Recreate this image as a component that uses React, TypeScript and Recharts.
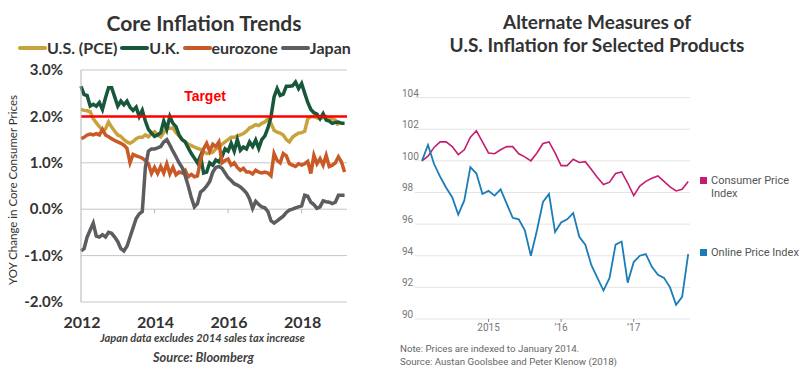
import React from 'react';
import {
  LineChart,
  Line,
  XAxis,
  YAxis,
  CartesianGrid,
  ReferenceLine,
  Legend,
} from 'recharts';

// Core inflation, YoY %, monthly from Jan 2012
const usPce = [
  2.15, 2.13, 2.12, 2.1, 1.95, 1.86, 1.78, 1.7, 1.73, 1.88,
  1.77, 1.68, 1.6, 1.57, 1.5, 1.45, 1.42, 1.46, 1.52, 1.55,
  1.55, 1.6, 1.56, 1.63, 1.67, 1.6, 1.56, 1.65, 1.77, 1.74,
  1.75, 1.65, 1.58, 1.5, 1.45, 1.4, 1.37, 1.34, 1.31, 1.29,
  1.24, 1.2, 1.21, 1.23, 1.3, 1.33, 1.4, 1.45, 1.5, 1.55,
  1.55, 1.58, 1.6, 1.63, 1.68, 1.75, 1.78, 1.82, 1.8, 1.85,
  1.88, 1.95, 1.85, 1.7, 1.66, 1.64, 1.6, 1.5, 1.45, 1.55,
  1.6, 1.64, 1.65, 1.68, 1.95, 1.99, 2.0, 1.97, 1.95, 1.98,
  2.0, 1.95, 1.95, 1.92, 1.8,
];
const uk = [
  2.65, 2.47, 2.45, 2.22, 2.26, 2.22, 2.3, 2.15, 2.4, 2.62,
  2.62, 2.42, 2.22, 2.33, 2.25, 2.33, 2.2, 2.13, 2.2, 2.0,
  2.13, 1.9, 1.72, 1.64, 1.57, 1.6, 1.65, 1.9, 1.72, 2.0,
  1.85, 1.78, 1.6, 1.5, 1.45, 1.32, 1.2, 1.1, 1.0, 1.15,
  0.78, 0.8, 1.0, 0.95, 1.06, 1.02, 1.13, 1.3, 1.25, 1.42,
  1.25, 1.5, 1.27, 1.34, 1.3, 1.45, 1.35, 1.49, 1.31, 1.5,
  1.58, 1.75, 1.99, 2.42, 2.6, 2.45, 2.48, 2.65, 2.65, 2.66,
  2.74, 2.6, 2.71, 2.5, 2.3, 2.15, 2.08, 2.05, 1.95, 2.06,
  1.92, 1.9, 1.85, 1.87, 1.88, 1.85, 1.85,
];
const eurozone = [
  1.52, 1.55, 1.6, 1.62, 1.6, 1.63, 1.6, 1.72, 1.6, 1.56,
  1.52, 1.48, 1.45, 1.42, 1.38, 1.31, 1.0, 1.18, 1.15, 1.13,
  1.1, 1.05, 0.98, 0.77, 0.9, 0.77, 0.92, 0.78, 0.98, 0.76,
  0.9, 0.74, 0.8, 0.78, 0.84, 0.7, 0.75, 0.7, 0.72, 1.05,
  1.3, 1.42, 1.25, 1.4, 1.35, 1.45, 1.0, 1.05, 1.08, 0.95,
  1.0, 0.9, 0.84, 0.88, 0.8, 0.8, 0.76, 0.84, 0.8, 0.78,
  0.8, 0.78, 0.72, 1.2, 1.05, 1.0, 1.2, 1.15, 0.98, 0.95,
  0.92, 0.98, 0.95, 0.98, 1.03, 0.77, 1.16, 0.98, 1.09, 0.95,
  1.16, 0.92, 0.95, 1.0, 1.13, 1.02, 0.8,
];
const japan = [
  -0.9, -0.85, -0.6, -0.45, -0.3, -0.58, -0.6, -0.55, -0.6, -0.5,
  -0.52, -0.6, -0.7, -0.85, -0.9, -0.8, -0.6, -0.4, -0.2, -0.1,
  -0.05, 0.9, 1.25, 1.3, 1.3, 1.32, 1.35, 1.45, 1.5, 1.38,
  1.25, 1.13, 1.0, 0.9, 0.72, 0.5, 0.25, 0.05, 0.12, 0.37,
  0.42, 0.5, 0.6, 0.8, 0.9, 0.92, 0.88, 0.78, 0.68, 0.62,
  0.55, 0.52, 0.48, 0.42, 0.35, 0.22, 0.02, 0.17, 0.1, 0.05,
  0.03, -0.05, -0.25, -0.3, -0.25, -0.2, -0.15, -0.07, -0.02, 0.0,
  0.03, 0.05, 0.07, 0.3, 0.28, 0.15, 0.1, 0.02, 0.05, 0.18,
  0.16, 0.15, 0.12, 0.15, 0.3, 0.3, 0.3,
];
const coreSeriesOrder = ['us', 'uk', 'ez', 'jp'];
const coreYearTicks = [0, 24, 48, 72];
const coreYearLabels = ['2012', '2014', '2016', '2018'];
const corePctTicks = [-2, -1, 0, 1, 2, 3];
const inflationTarget = 2;

// Price indexes (Jan 2014 = 100), monthly
const consumerPrice = [
  100.0, 100.3, 100.85, 101.2, 101.2, 100.9, 100.4, 100.7, 101.5, 101.9,
  101.2, 100.5, 100.45, 100.7, 100.9, 100.9, 100.45, 100.25, 100.0, 100.5,
  101.1, 101.2, 100.5, 99.7, 99.7, 100.1, 99.9, 99.95, 99.45, 98.95,
  98.5, 98.65, 99.2, 99.3, 98.6, 97.8, 98.4, 98.7, 98.9, 99.05,
  98.7, 98.35, 98.1, 98.2, 98.7,
];
const onlinePrice = [
  100.0, 101.0, 99.8, 99.0, 98.3, 97.7, 96.6, 97.5, 99.6, 99.2,
  97.9, 98.1, 97.8, 98.2, 97.3, 96.4, 96.3, 95.6, 94.0, 95.6,
  97.4, 97.9, 95.5, 96.1, 96.3, 96.7, 95.2, 94.7, 93.4, 92.6,
  91.8, 92.6, 94.7, 94.9, 92.3, 93.6, 94.0, 94.1, 93.3, 92.8,
  92.6, 92.0, 90.9, 91.4, 94.1,
];
const priceSeriesOrder = ['cpi', 'online'];
const priceIndexTicks = [90, 92, 94, 96, 98, 100, 102, 104];
const priceYearTicks = [11, 23, 35];
const priceYearLabels = ['2015', '\u201916', '\u201917'];

const coreData = uk.map((v, i) => ({
  m: i,
  us: usPce[i],
  uk: v,
  ez: eurozone[i],
  jp: japan[i],
}));

const priceData = onlinePrice.map((v, i) => ({
  i,
  cpi: consumerPrice[i],
  online: v,
}));

const BOLD = 'Lato, "Open Sans", sans-serif';
const WSJ = 'Roboto, "Noto Sans", sans-serif';

// left plot spans y 70..302, the zero line sits 3/5 of the way down
const CORE_TOP = 70;
const CORE_BOTTOM = 302;
const CORE_ZERO = CORE_TOP + ((CORE_BOTTOM - CORE_TOP) * 3) / 5;

function CoreYearTick({ x, y, payload }: any) {
  const idx = coreYearTicks.indexOf(payload.value);
  return (
    <g>
      {idx > 0 && (
        <line x1={x} x2={x} y1={CORE_ZERO} y2={CORE_ZERO + 4} stroke="#b5b5b5" />
      )}
      <text
        x={x + 1}
        y={y + 20}
        dy="0.35em"
        textAnchor="middle"
        fontFamily={BOLD}
        fontWeight={700}
        fontSize={16}
        fill="#333"
      >
        {coreYearLabels[idx]}
      </text>
    </g>
  );
}

function PctTick({ x, y, payload }: any) {
  return (
    <text
      x={x}
      y={y}
      dy="0.35em"
      textAnchor="end"
      fontFamily={BOLD}
      fontWeight={700}
      fontSize={15}
      fill="#333"
    >
      {payload.value.toFixed(1)}%
    </text>
  );
}

function CoreLegend({ payload }: any) {
  const items = [...(payload || [])].sort(
    (a: any, b: any) => coreSeriesOrder.indexOf(a.dataKey) - coreSeriesOrder.indexOf(b.dataKey)
  );
  return (
    <div style={{ display: 'flex', alignItems: 'center' }}>
      {items.map((p: any) => (
        <div key={p.value} style={{ display: 'flex', alignItems: 'center', marginRight: 3 }}>
          <span style={{ width: 29, height: 4, background: p.color, borderRadius: 2 }} />
          <span
            style={{
              fontFamily: BOLD,
              fontWeight: 700,
              fontSize: 16,
              color: '#333',
              lineHeight: '18px',
            }}
          >
            {p.value}
          </span>
        </div>
      ))}
    </div>
  );
}

function IndexTick({ y, payload }: any) {
  return (
    <text x={2} y={y - 1} fontFamily={WSJ} fontSize={10} fill="#777">
      {payload.value}
    </text>
  );
}

function PriceYearTick({ x, y, payload }: any) {
  return (
    <text
      x={x}
      y={y}
      dy="0.71em"
      textAnchor="middle"
      fontFamily={WSJ}
      fontSize={10}
      fill="#777"
    >
      {priceYearLabels[priceYearTicks.indexOf(payload.value)]}
    </text>
  );
}

function PriceLegend({ payload }: any) {
  const items = [...(payload || [])].sort(
    (a: any, b: any) => priceSeriesOrder.indexOf(a.dataKey) - priceSeriesOrder.indexOf(b.dataKey)
  );
  return (
    <div>
      {items.map((p: any, k: number) => (
        <div
          key={p.value}
          style={{ display: 'flex', alignItems: 'flex-start', marginBottom: k === 0 ? 46 : 0 }}
        >
          <span
            style={{
              width: 7,
              height: 7,
              background: p.color,
              marginTop: 3,
              marginRight: 4,
              flex: 'none',
            }}
          />
          <span
            style={{
              fontFamily: WSJ,
              fontSize: 11,
              lineHeight: '13px',
              color: '#555',
              width: 94,
            }}
          >
            {p.value}
          </span>
        </div>
      ))}
    </div>
  );
}

function CoreInflationChart() {
  return (
    <LineChart
      width={400}
      height={376}
      data={coreData}
      margin={{ top: CORE_TOP, right: 53, bottom: 0, left: 0 }}
    >
      <CartesianGrid vertical={false} stroke="#c6c6c6" />
      <XAxis
        type="number"
        dataKey="m"
        domain={[0, 86.8]}
        ticks={coreYearTicks}
        interval={0}
        height={376 - CORE_BOTTOM}
        axisLine={false}
        tickLine={false}
        tickSize={0}
        tickMargin={0}
        tick={<CoreYearTick />}
      />
      <YAxis
        type="number"
        domain={[-2, 3]}
        ticks={corePctTicks}
        interval={0}
        width={81}
        axisLine={{ stroke: '#b5b5b5' }}
        tickLine={false}
        tickSize={0}
        tickMargin={18}
        tick={<PctTick />}
        label={(props: any) => {
          const vb = props.viewBox;
          const cx = vb.x + 12;
          const cy = vb.y + vb.height / 2 + 4;
          return (
            <text
              x={cx}
              y={cy}
              transform={`rotate(-90 ${cx} ${cy})`}
              textAnchor="middle"
              dominantBaseline="central"
              fontFamily={BOLD}
              fontSize={11.5}
              fill="#333"
            >
              YOY Change in Core Consumer Prices
            </text>
          );
        }}
      />
      <Legend
        layout="horizontal"
        verticalAlign="middle"
        align="center"
        wrapperStyle={{ top: 39, left: 18, width: 380, height: 20 }}
        content={<CoreLegend />}
      />
      <Line dataKey="us" name="U.S. (PCE)" stroke="#c9a23c" strokeWidth={3.5} dot={false} isAnimationActive={false} />
      <Line dataKey="uk" name="U.K." stroke="#17573a" strokeWidth={3.5} dot={false} isAnimationActive={false} />
      <Line dataKey="ez" name="eurozone" stroke="#c95a26" strokeWidth={3.5} dot={false} isAnimationActive={false} />
      <Line dataKey="jp" name="Japan" stroke="#5c5c61" strokeWidth={3.5} dot={false} isAnimationActive={false} />
      <ReferenceLine
        y={inflationTarget}
        stroke="#ff0000"
        strokeWidth={2.5}
        label={(props: any) => {
          const vb = props.viewBox;
          return (
            <text
              x={vb.x + 124}
              y={vb.y - 20}
              dy="0.35em"
              textAnchor="middle"
              fontFamily="Liberation Sans, Arial, sans-serif"
              fontWeight={700}
              fontSize={14}
              fill="#ff0000"
            >
              Target
            </text>
          );
        }}
      />
    </LineChart>
  );
}

function PriceIndexChart() {
  return (
    <LineChart
      width={400}
      height={376}
      data={priceData}
      margin={{ top: 97.6, right: 110, bottom: 0, left: 0 }}
    >
      <CartesianGrid vertical={false} stroke="#e4e4e4" />
      <XAxis
        type="number"
        dataKey="i"
        domain={[-1.15, 44.3]}
        ticks={priceYearTicks}
        interval={0}
        height={57}
        axisLine={false}
        tickLine={{ stroke: '#888' }}
        tickSize={3}
        tickMargin={2}
        tick={<PriceYearTick />}
      />
      <YAxis
        type="number"
        domain={[90, 104]}
        ticks={priceIndexTicks}
        interval={0}
        width={15}
        axisLine={false}
        tickLine={false}
        tick={<IndexTick />}
      />
      <Legend
        layout="horizontal"
        verticalAlign="middle"
        align="center"
        wrapperStyle={{ top: 174, left: 300, width: 100, height: 90 }}
        content={<PriceLegend />}
      />
      <Line dataKey="cpi" name="Consumer Price Index" stroke="#c41d6f" strokeWidth={1.6} dot={false} isAnimationActive={false} />
      <Line dataKey="online" name="Online Price Index" stroke="#1a7db8" strokeWidth={1.8} dot={false} isAnimationActive={false} />
    </LineChart>
  );
}

const textBase: React.CSSProperties = { position: 'absolute', whiteSpace: 'nowrap' };

export default function App() {
  return (
    <div
      style={{
        position: 'absolute',
        left: 0,
        top: 0,
        width: 800,
        height: 376,
        background: '#fff',
        overflow: 'hidden',
      }}
    >
      <div style={{ position: 'absolute', left: 0, top: 0 }}>
        <CoreInflationChart />
      </div>
      <div style={{ position: 'absolute', left: 400, top: 0 }}>
        <PriceIndexChart />
      </div>

      <div
        style={{
          ...textBase,
          left: 0,
          width: 408,
          top: 9,
          textAlign: 'center',
          fontFamily: BOLD,
          fontWeight: 700,
          fontSize: 21,
          lineHeight: '27px',
          color: '#333',
        }}
      >
        Core Inflation Trends
      </div>
      <div
        style={{
          ...textBase,
          left: 0,
          width: 405,
          top: 331,
          textAlign: 'center',
          fontFamily: BOLD,
          fontWeight: 700,
          fontStyle: 'italic',
          fontSize: 11,
          lineHeight: '14px',
          color: '#404040',
        }}
      >
        Japan data excludes 2014 sales tax increase
      </div>
      <div
        style={{
          ...textBase,
          left: 0,
          width: 407,
          top: 349,
          textAlign: 'center',
          fontFamily: BOLD,
          fontWeight: 700,
          fontStyle: 'italic',
          fontSize: 12.8,
          lineHeight: '16px',
          color: '#404040',
        }}
      >
        Source: Bloomberg
      </div>

      <div
        style={{
          ...textBase,
          left: 400,
          width: 394,
          top: 10,
          textAlign: 'center',
          fontFamily: BOLD,
          fontWeight: 700,
          fontSize: 19,
          lineHeight: '23px',
          color: '#333',
        }}
      >
        Alternate Measures of
        <br />
        U.S. Inflation for Selected Products
      </div>
      <div
        style={{
          ...textBase,
          left: 400,
          top: 342,
          fontFamily: WSJ,
          fontSize: 9.7,
          lineHeight: '13px',
          color: '#666',
        }}
      >
        Note: Prices are indexed to January 2014.
        <br />
        Source: Austan Goolsbee and Peter Klenow (2018)
      </div>
    </div>
  );
}
